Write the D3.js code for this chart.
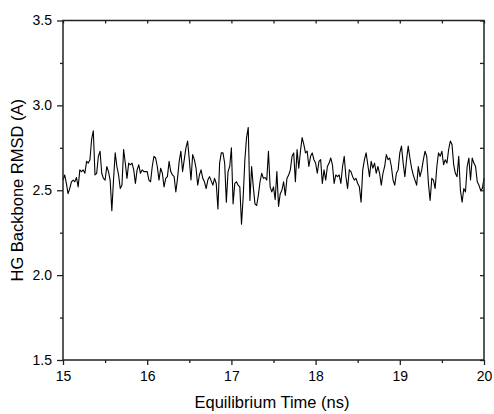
<!DOCTYPE html>
<html><head><meta charset="utf-8">
<script src="https://cdn.jsdelivr.net/npm/d3@7"></script>
<style>body{margin:0;background:#fff}svg{display:block}text{font-family:"Liberation Sans",Arial,sans-serif;fill:#000}</style>
</head><body><svg id="c" width="494" height="414"></svg>
<script>
const tStart = 15, tStep = 0.02;
const rmsd = [
2.56,2.59,2.54,2.48,2.51,2.55,2.56,2.55,2.575,2.52,2.62,2.61,2.62,2.60,2.67,2.66,2.68,2.80,2.85,2.59,
2.60,2.70,2.73,2.60,2.57,2.56,2.64,2.61,2.56,2.38,2.56,2.72,2.64,2.59,2.51,2.53,2.74,2.66,2.57,2.66,
2.65,2.66,2.62,2.54,2.62,2.65,2.60,2.62,2.61,2.61,2.61,
2.56,2.55,2.64,2.70,2.69,2.64,2.56,2.63,2.60,2.52,2.57,2.58,2.67,2.61,2.59,2.58,2.49,2.57,2.67,2.73,
2.61,2.68,2.75,2.79,2.68,2.56,2.71,2.68,2.63,2.53,2.59,2.62,2.57,2.55,2.51,2.56,2.58,2.555,2.53,2.57,
2.54,2.39,2.66,2.72,2.72,2.66,2.43,2.61,2.64,2.75,2.42,
2.54,2.55,2.53,2.52,2.30,2.46,2.68,2.81,2.87,2.44,2.64,2.52,2.42,2.41,2.47,2.55,2.60,2.57,2.575,2.56,
2.73,2.52,2.49,2.52,2.445,2.61,2.405,2.48,2.50,2.55,2.47,2.57,2.59,2.62,2.70,2.72,2.55,2.74,2.63,2.73,
2.81,2.77,2.72,2.73,2.64,2.70,2.72,2.68,2.66,2.60,2.67,
2.68,2.54,2.62,2.56,2.64,2.66,2.69,2.65,2.54,2.59,2.58,2.59,2.54,2.64,2.70,2.58,2.51,2.62,2.61,2.58,
2.56,2.57,2.54,2.52,2.43,2.62,2.68,2.72,2.65,2.58,2.67,2.63,2.66,2.60,2.64,2.60,2.53,2.60,2.64,2.71,
2.68,2.69,2.64,2.56,2.53,2.60,2.62,2.72,2.76,2.66,2.58,
2.68,2.76,2.69,2.63,2.59,2.56,2.53,2.64,2.58,2.62,2.68,2.73,2.70,2.54,2.44,2.57,2.56,2.51,2.64,2.72,
2.70,2.73,2.65,2.68,2.66,2.74,2.79,2.77,2.65,2.60,2.58,2.70,2.50,2.43,2.51,2.49,2.64,2.69,2.56,2.69,
2.66,2.64,2.55,2.53,2.50,2.51,2.57
];
const xTicks = [15,16,17,18,19,20];
const yTicks = [1.5,2.0,2.5,3.0,3.5];
const xMinor = [15.5,16.5,17.5,18.5,19.5];
const yMinor = [1.75,2.25,2.75,3.25];
const xTitle = "Equilibrium Time (ns)";
const yTitle = "HG Backbone RMSD (A)";

const L = 63, R = 484, T = 20.5, B = 360;
const svg = d3.select("#c");
const x = d3.scaleLinear().domain([15,20]).range([L,R]);
const y = d3.scaleLinear().domain([1.5,3.5]).range([B,T]);
const data = rmsd.map((v,i)=>({t: tStart + i*tStep, v}));

const axisColor = "#222";
svg.append("path").datum(data)
  .attr("fill","none").attr("stroke","#000").attr("stroke-width",1.1)
  .attr("stroke-linejoin","round")
  .attr("d", d3.line().x(d=>x(d.t)).y(d=>y(d.v)));

function styleAxis(g){ g.select(".domain").remove(); g.selectAll("line").attr("stroke",axisColor).attr("stroke-width",1.3); }

svg.append("g").attr("transform",`translate(0,${B})`)
  .call(d3.axisBottom(x).tickValues(xTicks).tickFormat(d3.format("d")).tickSize(5).tickPadding(6))
  .call(styleAxis).call(g=>g.selectAll("text").attr("font-size",14).attr("font-family","Liberation Sans, Arial, sans-serif"));
svg.append("g").attr("transform",`translate(0,${B})`)
  .call(d3.axisBottom(x).tickValues(xMinor).tickFormat("").tickSize(3)).call(styleAxis);
svg.append("g").attr("transform",`translate(0,${T})`)
  .call(d3.axisTop(x).tickValues(xTicks.concat(xMinor)).tickFormat("").tickSize(-3)).call(styleAxis);
svg.append("g").attr("transform",`translate(${L},0)`)
  .call(d3.axisLeft(y).tickValues(yTicks).tickFormat(d3.format(".1f")).tickSize(6).tickPadding(5))
  .call(styleAxis).call(g=>g.selectAll("text").attr("font-size",14).attr("font-family","Liberation Sans, Arial, sans-serif"));
svg.append("g").attr("transform",`translate(${L},0)`)
  .call(d3.axisLeft(y).tickValues(yMinor).tickFormat("").tickSize(3)).call(styleAxis);
svg.append("g").attr("transform",`translate(${R},0)`)
  .call(d3.axisRight(y).tickValues(yTicks.concat(yMinor)).tickFormat("").tickSize(-4)).call(styleAxis);

svg.append("rect").attr("x",L).attr("y",T).attr("width",R-L).attr("height",B-T)
  .attr("fill","none").attr("stroke",axisColor).attr("stroke-width",1.5);

svg.append("text").attr("x",272).attr("y",408).attr("text-anchor","middle")
  .attr("font-size",16.5).text(xTitle);
svg.append("text").attr("transform",`translate(23,${(T+B)/2}) rotate(-90)`).attr("text-anchor","middle")
  .attr("font-size",16.5).text(yTitle);
</script></body></html>
